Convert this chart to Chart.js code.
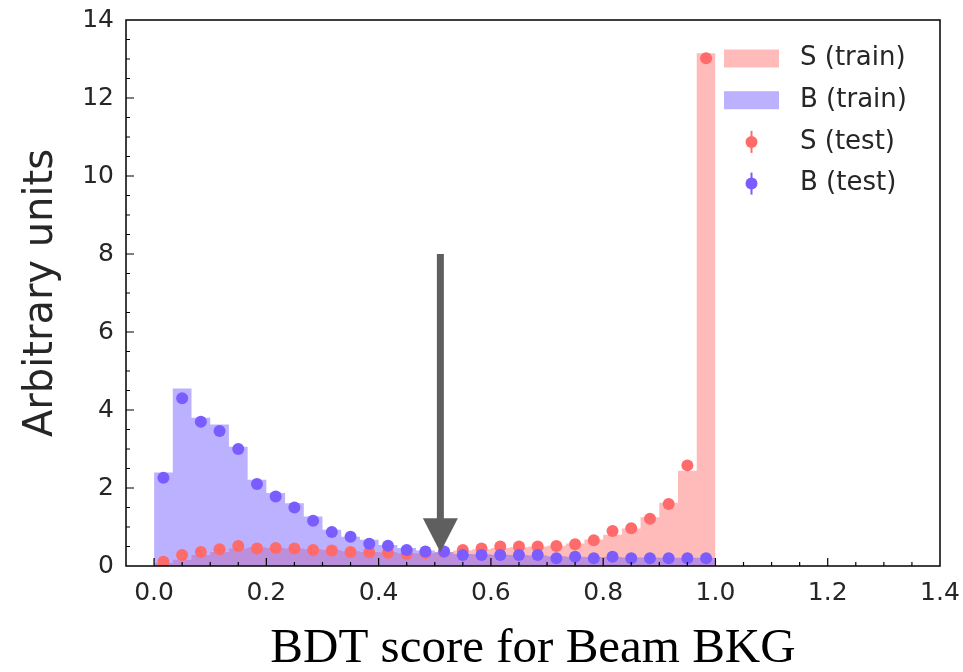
<!DOCTYPE html>
<html lang="en">
<head>
  <meta charset="UTF-8" />
  <title>BDT score for Beam BKG</title>
  <script src="https://cdn.jsdelivr.net/npm/chart.js"></script>
  <style>
    body { margin: 0; background: #fff; }
    canvas { display: block; }
  </style>
</head>
<body>
  <canvas id="bdtChart" width="963" height="672"></canvas>

  <script>
    // 30 bins between 0 and 1
    const nBins = 30;
    const sTrain = [0.08, 0.16, 0.28, 0.36, 0.45, 0.48, 0.46, 0.45, 0.43, 0.41, 0.38, 0.36, 0.35, 0.33, 0.33,
                    0.36, 0.40, 0.43, 0.46, 0.48, 0.50, 0.52, 0.58, 0.68, 0.80, 0.96, 1.25, 1.62, 2.44, 13.15];
    const bTrain = [2.40, 4.55, 3.80, 3.63, 3.06, 2.21, 1.87, 1.61, 1.27, 0.93, 0.75, 0.67, 0.54, 0.46, 0.40,
                    0.35, 0.31, 0.30, 0.29, 0.28, 0.27, 0.25, 0.24, 0.23, 0.23, 0.22, 0.22, 0.21, 0.21, 0.21];
    const sTest = [0.11, 0.28, 0.36, 0.43, 0.51, 0.45, 0.46, 0.45, 0.41, 0.40, 0.36, 0.35, 0.34, 0.31, 0.33,
                   0.36, 0.41, 0.45, 0.50, 0.50, 0.50, 0.51, 0.56, 0.66, 0.90, 0.97, 1.21, 1.59, 2.58, 13.02];
    const bTest = [2.26, 4.30, 3.70, 3.46, 3.00, 2.10, 1.78, 1.50, 1.16, 0.87, 0.75, 0.57, 0.52, 0.41, 0.37,
                   0.37, 0.28, 0.28, 0.28, 0.28, 0.28, 0.20, 0.24, 0.20, 0.24, 0.20, 0.20, 0.20, 0.20, 0.20];
    const xTicks = [0.0, 0.2, 0.4, 0.6, 0.8, 1.0, 1.2, 1.4];
    const yTicks = [0, 2, 4, 6, 8, 10, 12, 14];
    const cutValue = 0.51;   // arrow position
    const arrowTop = 8;
    const arrowTip = 0.35;

    const legendItems = [
      { label: 'S (train)', kind: 'patch', color: 'rgba(255,102,102,0.45)' },
      { label: 'B (train)', kind: 'patch', color: 'rgba(122,100,255,0.5)' },
      { label: 'S (test)', kind: 'dot', color: '#ff6b6b' },
      { label: 'B (test)', kind: 'dot', color: '#7b5cff' }
    ];

    // step outline: one point per bin edge, last value repeated at x = 1
    function stepPoints(vals) {
      const pts = vals.map((v, i) => ({ x: i / nBins, y: v }));
      pts.push({ x: 1, y: vals[vals.length - 1] });
      return pts;
    }
    function centerPoints(vals) {
      return vals.map((v, i) => ({ x: (i + 0.5) / nBins, y: v }));
    }

    const framePlugin = {
      id: 'frame',
      afterDraw(chart) {
        const ctx = chart.ctx;
        const a = chart.chartArea;
        const xs = chart.scales.x, ys = chart.scales.y;
        ctx.save();

        // arrow
        const ax = xs.getPixelForValue(cutValue);
        const yTop = ys.getPixelForValue(arrowTop);
        const yTip = ys.getPixelForValue(arrowTip);
        ctx.fillStyle = '#5f5f5f';
        ctx.fillRect(ax - 3.5, yTop, 7, yTip - yTop - 30);
        ctx.beginPath();
        ctx.moveTo(ax - 17.5, yTip - 34);
        ctx.lineTo(ax + 17.5, yTip - 34);
        ctx.lineTo(ax, yTip);
        ctx.closePath();
        ctx.fill();

        // box
        ctx.strokeStyle = '#000';
        ctx.lineWidth = 1.5;
        ctx.strokeRect(a.left, a.top, a.right - a.left, a.bottom - a.top);

        // inward ticks
        ctx.lineWidth = 1.2;
        ctx.beginPath();
        for (let k = -1; k <= 28; k++) {
          const v = k * 0.05;
          const px = xs.getPixelForValue(v);
          if (px < a.left + 1 || px > a.right - 1) continue;
          const len = (k % 4 === 0) ? 8 : 4;
          ctx.moveTo(px, a.bottom);
          ctx.lineTo(px, a.bottom - len);
        }
        for (let k = 1; k < 28; k++) {
          const py = ys.getPixelForValue(k * 0.5);
          const len = (k % 4 === 0) ? 8 : 4;
          ctx.moveTo(a.left, py);
          ctx.lineTo(a.left + len, py);
        }
        ctx.stroke();

        // legend
        const sx = a.right - 216, tx = a.right - 140;
        ctx.font = '26px "DejaVu Sans"';
        ctx.textBaseline = 'middle';
        legendItems.forEach((it, i) => {
          const cy = a.top + 38.5 + i * 41.7;
          if (it.kind === 'patch') {
            ctx.fillStyle = it.color;
            ctx.fillRect(sx, cy - 9, 55, 18);
          } else {
            const cx = sx + 27.5;
            ctx.strokeStyle = it.color;
            ctx.lineWidth = 2;
            ctx.beginPath();
            ctx.moveTo(cx, cy - 11);
            ctx.lineTo(cx, cy + 11);
            ctx.stroke();
            ctx.fillStyle = it.color;
            ctx.beginPath();
            ctx.arc(cx, cy, 6, 0, Math.PI * 2);
            ctx.fill();
          }
          ctx.fillStyle = '#262626';
          ctx.fillText(it.label, tx, cy);
        });
        ctx.restore();
      }
    };

    const tickFont = { family: 'DejaVu Sans', size: 25 };

    new Chart(document.getElementById('bdtChart').getContext('2d'), {
      type: 'line',
      data: {
        datasets: [
          {
            label: 'B (test)', data: centerPoints(bTest), showLine: false,
            pointRadius: 6, pointBackgroundColor: '#7b5cff', pointBorderWidth: 0, order: 0
          },
          {
            label: 'S (test)', data: centerPoints(sTest), showLine: false,
            pointRadius: 6, pointBackgroundColor: '#ff6b6b', pointBorderWidth: 0, order: 1
          },
          {
            label: 'B (train)', data: stepPoints(bTrain), stepped: 'before', fill: 'origin',
            backgroundColor: 'rgba(122,100,255,0.5)', borderWidth: 0, pointRadius: 0, order: 2
          },
          {
            label: 'S (train)', data: stepPoints(sTrain), stepped: 'before', fill: 'origin',
            backgroundColor: 'rgba(255,102,102,0.45)', borderWidth: 0, pointRadius: 0, order: 3
          }
        ]
      },
      options: {
        responsive: false,
        animation: false,
        layout: { padding: { top: 20, right: 23, left: 0, bottom: 0 } },
        scales: {
          x: {
            type: 'linear', min: -0.05, max: 1.4,
            afterFit: s => { s.height = 106; s.paddingLeft = 0; s.paddingRight = 0; },
            afterBuildTicks: s => { s.ticks = xTicks.map(v => ({ value: v })); },
            ticks: { font: tickFont, color: '#262626', padding: 12, maxRotation: 0,
                     callback: v => v.toFixed(1) },
            grid: { display: false, drawTicks: false },
            border: { display: false },
            title: { display: true, text: 'BDT score for Beam BKG', color: '#000',
                     font: { family: 'Liberation Serif', size: 49, lineHeight: 0.92 }, padding: { top: 0, bottom: 0 } }
          },
          y: {
            min: 0, max: 14,
            afterFit: s => { s.width = 126; s.paddingTop = 0; s.paddingBottom = 0; },
            afterBuildTicks: s => { s.ticks = yTicks.map(v => ({ value: v })); },
            ticks: { font: tickFont, color: '#262626', padding: 12 },
            grid: { display: false, drawTicks: false },
            border: { display: false },
            title: { display: true, text: 'Arbitrary units', color: '#262626',
                     font: { family: 'DejaVu Sans', size: 40, lineHeight: 1.2 }, padding: { top: 18, bottom: 0 } }
          }
        },
        plugins: { legend: { display: false }, tooltip: { enabled: false } }
      },
      plugins: [framePlugin]
    });
  </script>
</body>
</html>
